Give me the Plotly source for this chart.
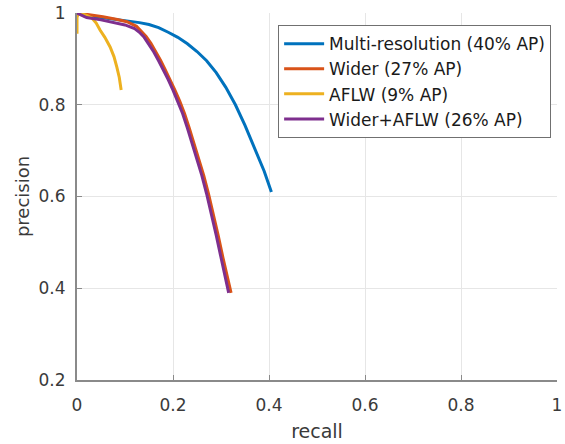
import plotly.graph_objects as go

# ---- data ----
multi_recall = [0, 0.02, 0.05, 0.08, 0.11, 0.13, 0.15, 0.17, 0.19, 0.21, 0.23, 0.25, 0.27,
                0.29, 0.31, 0.33, 0.35, 0.37, 0.39, 0.405]
multi_prec = [1.0, 0.995, 0.99, 0.986, 0.982, 0.979, 0.975, 0.968, 0.958, 0.947, 0.933, 0.916, 0.896,
              0.870, 0.838, 0.800, 0.755, 0.705, 0.655, 0.61]

wider_recall = [0, 0.024, 0.054, 0.084, 0.104, 0.124, 0.134, 0.144, 0.154, 0.164, 0.174, 0.184, 0.194,
                0.204, 0.214, 0.224, 0.234, 0.244, 0.254, 0.264, 0.274, 0.284, 0.294, 0.304, 0.314, 0.321]
wider_prec = [1.0, 0.997, 0.992, 0.986, 0.981, 0.971, 0.961, 0.949, 0.934, 0.916, 0.897, 0.876, 0.855,
              0.832, 0.808, 0.781, 0.749, 0.716, 0.682, 0.646, 0.606, 0.563, 0.516, 0.467, 0.418, 0.39]

aflw_recall = [0, 0, 0.003, 0.01, 0.02, 0.031, 0.04, 0.048, 0.058, 0.069, 0.077, 0.083, 0.088, 0.092]
aflw_prec = [0.955, 0.99, 1.0, 0.998, 0.995, 0.989, 0.978, 0.963, 0.947, 0.926, 0.905, 0.882, 0.86, 0.832]

wa_recall = [0, 0.02, 0.05, 0.08, 0.10, 0.12, 0.13, 0.14, 0.15, 0.16, 0.17, 0.18, 0.19,
             0.20, 0.21, 0.22, 0.23, 0.24, 0.25, 0.26, 0.27, 0.28, 0.29, 0.30, 0.31, 0.316]
wa_prec = [1.0, 0.99, 0.985, 0.978, 0.974, 0.966, 0.958, 0.947, 0.932, 0.915, 0.896, 0.876, 0.855,
           0.832, 0.808, 0.781, 0.749, 0.716, 0.682, 0.646, 0.606, 0.563, 0.516, 0.467, 0.418, 0.39]

names = ["Multi-resolution (40% AP)", "Wider (27% AP)", "AFLW (9% AP)", "Wider+AFLW (26% AP)"]
colors = ["#0072BD", "#D95319", "#EDB120", "#7E2F8E"]

x_ticks = [0, 0.2, 0.4, 0.6, 0.8, 1]
x_tick_text = ["0", "0.2", "0.4", "0.6", "0.8", "1"]
y_ticks = [0.2, 0.4, 0.6, 0.8, 1]
y_tick_text = ["0.2", "0.4", "0.6", "0.8", "1"]

series = [
    (multi_recall, multi_prec),
    (wider_recall, wider_prec),
    (aflw_recall, aflw_prec),
    (wa_recall, wa_prec),
]

FONT = "DejaVu Sans"

fig = go.Figure()
for (xr, yp), nm, c in zip(series, names, colors):
    fig.add_trace(go.Scatter(x=xr, y=yp, mode="lines", name=nm,
                             line=dict(color=c, width=3)))

axis_common = dict(
    showgrid=True, gridcolor="#e6e6e6", gridwidth=1,
    showline=True, linecolor="#8a8a8a", linewidth=2,
    ticks="inside", ticklen=5, tickcolor="#8a8a8a", tickwidth=1,
    zeroline=False, mirror=False, automargin=False,
    tickfont=dict(family=FONT, size=17, color="#3a3a3a"),
)

fig.update_layout(
    width=565, height=444,
    margin=dict(l=77, r=8, t=13, b=64),
    paper_bgcolor="white", plot_bgcolor="white",
    font=dict(family=FONT, color="#3a3a3a"),
    xaxis=dict(range=[0, 1], tickvals=x_ticks, ticktext=x_tick_text,
               title=dict(text="recall", font=dict(family=FONT, size=19, color="#3a3a3a"), standoff=10),
               ticklabelstandoff=9, **axis_common),
    yaxis=dict(range=[0.2, 1], tickvals=y_ticks, ticktext=y_tick_text,
               title=dict(text="precision", font=dict(family=FONT, size=18, color="#3a3a3a"), standoff=4),
               ticklabelstandoff=6, **axis_common),
    legend=dict(x=0.419, y=0.967, xanchor="left", yanchor="top",
                bgcolor="white", bordercolor="#707070", borderwidth=1,
                font=dict(family=FONT, size=17, color="#1a1a1a"),
                itemwidth=40, tracegroupgap=0),
    showlegend=True,
)

fig.write_html("out.html")
